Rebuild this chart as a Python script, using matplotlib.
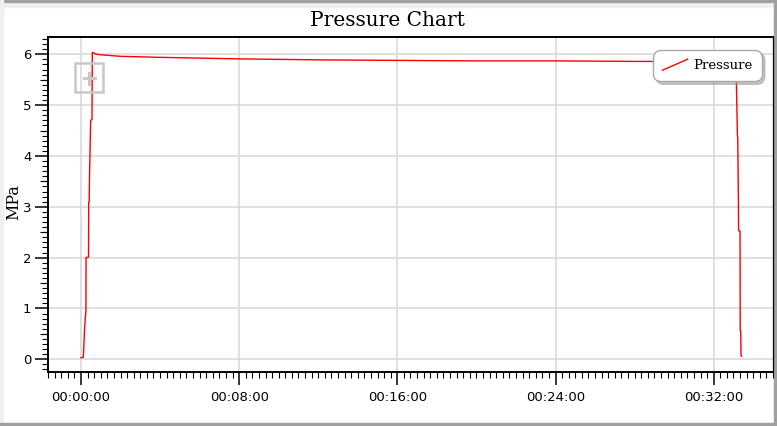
import matplotlib
matplotlib.use("Agg")
import matplotlib.pyplot as plt
from matplotlib.ticker import MultipleLocator, FuncFormatter
from matplotlib.legend_handler import HandlerBase
from matplotlib.lines import Line2D
from matplotlib.patches import Rectangle

# elapsed time in seconds and pressure in MPa
time_s = [0, 7, 9, 11, 13, 15, 15.5, 23, 23.5, 25, 26, 29.5, 33.5, 34.5,
          40, 48, 60, 120, 240, 480, 720, 960, 1200, 1440, 1680, 1920,
          1984, 1989, 1992, 1993, 1995, 1995.5, 2000, 2000.5, 2002, 2003, 2005]
pressure = [0.03, 0.04, 0.3, 0.6, 0.8, 0.96, 2.0, 2.01, 3.09, 3.1, 3.62, 4.7, 4.72, 6.04,
            6.02, 6.0, 5.99, 5.96, 5.94, 5.91, 5.89, 5.88, 5.87, 5.87, 5.86, 5.86,
            5.86, 5.43, 4.4, 4.37, 3.13, 2.53, 2.52, 0.57, 0.55, 0.07, 0.06]

title = "Pressure Chart"
y_label = "MPa"
series_name = "Pressure"

W, H = 777, 426


def hms(s, pos=None):
    s = int(round(s))
    return f"{s // 3600:02d}:{s % 3600 // 60:02d}:{s % 60:02d}"


class DiagonalHandler(HandlerBase):
    # legend sample drawn as a rising diagonal stroke
    def create_artists(self, legend, orig_handle, xdescent, ydescent, width, height, fontsize, trans):
        line = Line2D([-xdescent, -xdescent + width], [-ydescent, -ydescent + height],
                      color=orig_handle.get_color(), lw=orig_handle.get_linewidth())
        line.set_transform(trans)
        return [line]


fig = plt.figure(figsize=(W / 100, H / 100), dpi=100)
fig.patch.set_facecolor("white")

# window frame around the chart
fig.add_artist(Rectangle((0, 1 - 7 / H), 1, 7 / H, transform=fig.transFigure, color="#f0f0f0", zorder=0))
fig.add_artist(Rectangle((0, 1 - 1.5 / H), 1, 1.5 / H, transform=fig.transFigure, color="#a0a0a0", zorder=0))
fig.add_artist(Rectangle((0, 0), 3 / W, 1, transform=fig.transFigure, color="#f0f0f0", zorder=0))
fig.add_artist(Rectangle((0, 0), 1, 3 / H, transform=fig.transFigure, color="#a0a0a0", zorder=0))
fig.add_artist(Rectangle((1 - 3 / W, 0), 3 / W, 1, transform=fig.transFigure, color="#a0a0a0", zorder=0))

ax = fig.add_axes([48 / W, 1 - 372 / H, (773 - 48) / W, (372 - 37) / H])
line, = ax.plot(time_s, pressure, color="#ff0000", lw=1.0)

ax.set_xlim(-100, 2100)
ax.set_ylim(-0.25, 6.34)

ax.xaxis.set_major_locator(MultipleLocator(480))
ax.xaxis.set_minor_locator(MultipleLocator(20))
ax.xaxis.set_major_formatter(FuncFormatter(hms))
ax.yaxis.set_major_locator(MultipleLocator(1))
ax.yaxis.set_minor_locator(MultipleLocator(0.1))

ax.tick_params(which="major", direction="out", length=9.5, width=1.1, color="black",
               labelsize=9.5, pad=2.5)
ax.tick_params(which="minor", direction="out", length=4.3, width=0.8, color="black")
ax.tick_params(axis="x", which="major", pad=4)

# half-unit ticks on the y axis are a little longer
sec = ax.secondary_yaxis("left")
sec.set_yticks([i + 0.5 for i in range(-1, 7)])
sec.tick_params(length=6, width=0.8, labelleft=False)
sec.spines["left"].set_visible(False)

ax.grid(True, which="major", color="#dadada", lw=1.2)
ax.set_axisbelow(True)
for side in ["left", "top", "bottom"]:
    ax.spines[side].set_linewidth(1.4)
ax.spines["right"].set_linewidth(0.9)

fig.text(388 / W, 1 - 20 / H, title, ha="center", va="center",
         family="DejaVu Serif", fontsize=14.5)
fig.text(14 / W, 1 - 202 / H, y_label, ha="center", va="center", rotation=90,
         family="DejaVu Serif", fontsize=11.5)

leg = ax.legend([line], [series_name], handler_map={Line2D: DiagonalHandler()},
                loc="upper right", bbox_to_anchor=((762 - 48) / 725, (372 - 50) / 335),
                borderaxespad=0, prop={"family": "DejaVu Serif", "size": 9.5},
                handlelength=1.9, handleheight=0.9, handletextpad=0.45, borderpad=0.7,
                fancybox=True, shadow={"color": "#909090", "alpha": 0.5}, framealpha=1)
frame = leg.get_frame()
frame.set_edgecolor("#a8a8a8")
frame.set_linewidth(1.0)
frame.set_boxstyle("round,pad=0,rounding_size=0.6")

# zoom button overlay in the corner of the plot
fig.add_artist(Rectangle((75 / W, 1 - 92 / H), 28 / W, 28.5 / H, transform=fig.transFigure,
                         fill=False, edgecolor="#c8c8c8", lw=1.8, zorder=5))
fig.add_artist(Line2D([83.5 / W, 95 / W], [1 - 78 / H, 1 - 78 / H], transform=fig.transFigure,
                      color="#c8c8c8", lw=2.2, zorder=5))
fig.add_artist(Line2D([89 / W, 89 / W], [1 - 72.5 / H, 1 - 83.5 / H], transform=fig.transFigure,
                      color="#c8c8c8", lw=2.2, zorder=5))

fig.savefig("out.png", dpi=100)
